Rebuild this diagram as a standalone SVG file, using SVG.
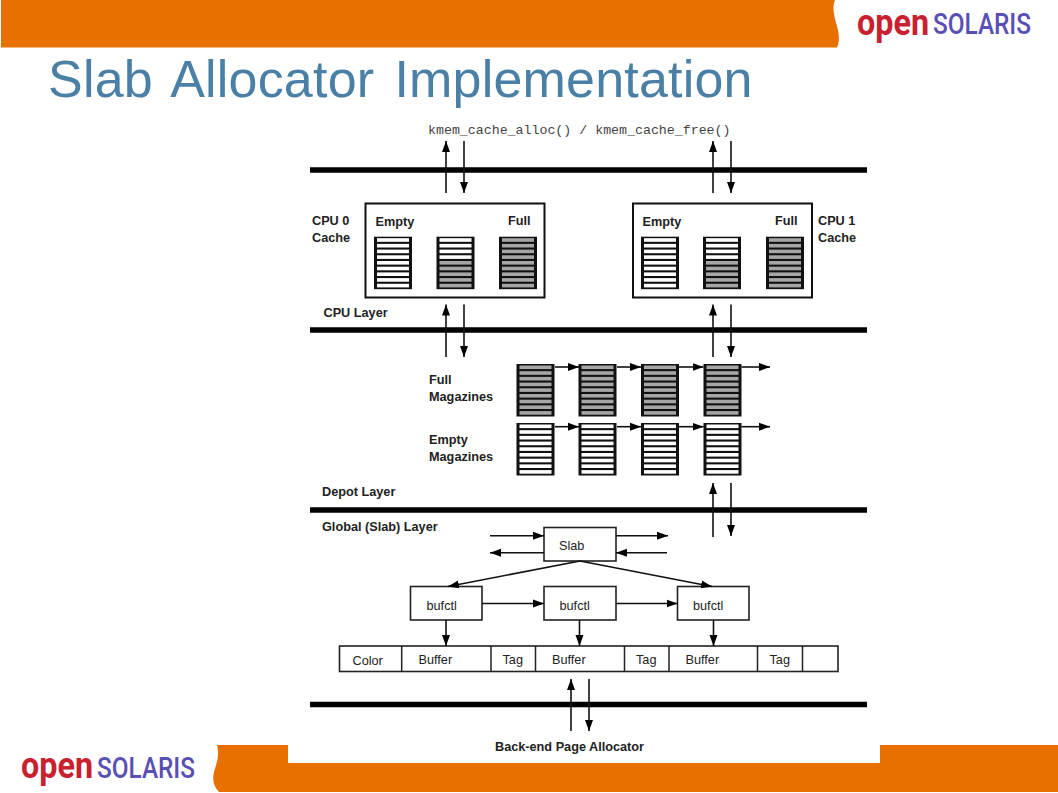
<svg xmlns="http://www.w3.org/2000/svg" width="1058" height="793" viewBox="0 0 1058 793">
<style>
.b{fill:#e87000}
.title{font:52px "Liberation Sans",Arial,sans-serif;word-spacing:5.5px;letter-spacing:.2px;fill:#4a80a6}
.lb{font:bold 12.7px "Liberation Sans",Arial,sans-serif;fill:#222}
.lr{font:12.7px "Liberation Sans",Arial,sans-serif;fill:#222}
.mono{font:13.28px "Liberation Mono","Courier New",monospace;fill:#444}
.open{font:700 37px Roboto,"Noto Sans",sans-serif;fill:#c8202f}
.sol{font:500 30px Roboto,"Noto Sans",sans-serif;text-transform:uppercase;fill:#5a4fb5}
.bar{stroke:#000;stroke-width:5.5;fill:none}
.box{fill:#fff;stroke:#111;stroke-width:2}
.thin{fill:#fff;stroke:#222;stroke-width:1.6}
.c{stroke:#111;stroke-width:1.6;fill:none;marker-end:url(#ah)}
</style>
<defs>
<marker id="ah" markerUnits="userSpaceOnUse" markerWidth="11" markerHeight="9" refX="11" refY="4.5" orient="auto"><path d="M0 0.5L11 4.500L0 8.500Z" fill="#000"/></marker>
<g id="magE"><rect width="38" height="52.5" fill="#111"/><g fill="#fff"><rect x="3" y="1.5" width="32" height="3.6"/><rect x="3" y="7.2" width="32" height="3.6"/><rect x="3" y="12.9" width="32" height="3.6"/><rect x="3" y="18.6" width="32" height="3.6"/><rect x="3" y="24.3" width="32" height="3.6"/><rect x="3" y="30" width="32" height="3.6"/><rect x="3" y="35.7" width="32" height="3.6"/><rect x="3" y="41.4" width="32" height="3.6"/><rect x="3" y="47.1" width="32" height="3.6"/></g></g>
<g id="magF"><rect width="38" height="52.5" fill="#111"/><g fill="#a6a6a6"><rect x="3" y="1.5" width="32" height="3.6"/><rect x="3" y="7.2" width="32" height="3.6"/><rect x="3" y="12.9" width="32" height="3.6"/><rect x="3" y="18.6" width="32" height="3.6"/><rect x="3" y="24.3" width="32" height="3.6"/><rect x="3" y="30" width="32" height="3.6"/><rect x="3" y="35.7" width="32" height="3.6"/><rect x="3" y="41.4" width="32" height="3.6"/><rect x="3" y="47.1" width="32" height="3.6"/></g></g>
<g id="magH"><rect width="38" height="52.5" fill="#111"/><g fill="#fff"><rect x="3" y="1.5" width="32" height="3.6"/><rect x="3" y="7.2" width="32" height="3.6"/><rect x="3" y="12.9" width="32" height="3.6"/><rect x="3" y="18.6" width="32" height="3.6"/></g><g fill="#a6a6a6"><rect x="3" y="24.3" width="32" height="3.6"/><rect x="3" y="30" width="32" height="3.6"/><rect x="3" y="35.7" width="32" height="3.6"/><rect x="3" y="41.4" width="32" height="3.6"/><rect x="3" y="47.1" width="32" height="3.6"/></g></g>
</defs>
<rect width="1058" height="793" fill="#fff"/>
<g id="slide-frame">
<path class="b" d="M1 0H835C832 8 834 16 837 26C839 34 840 41 837 47.500H1Z"/>
<path class="b" d="M217 745H288V763H880V745H1058V792H219C214 787 212 780 214 772C216 764 220 757 217 745Z"/>
<rect x="288" y="745" width="592" height="18" fill="#fff"/>
<text class="title" x="48" y="97">Slab Allocator Implementation</text>
</g>
<g id="logo-top"><text class="open" x="857" y="34.500" textLength="72" lengthAdjust="spacingAndGlyphs">open</text><text class="sol" x="933" y="33.500" textLength="98" lengthAdjust="spacingAndGlyphs">solaris</text></g>
<g id="logo-bottom"><text class="open" x="21" y="778" textLength="72" lengthAdjust="spacingAndGlyphs">open</text><text class="sol" x="97" y="777.500" textLength="98" lengthAdjust="spacingAndGlyphs">solaris</text></g>
<g id="layer-bars">
<path class="bar" d="M310 170H867M310 330H867M310 510H867M310 704.500H867"/>
</g>
<g id="cpu0-cache">
<rect class="box" x="365.500" y="203.500" width="179" height="94"/>
<use href="#magE" x="374" y="236.700"/><use href="#magH" x="436.500" y="236.700"/><use href="#magF" x="499" y="236.700"/>
<text class="lb" x="375.500" y="226">Empty</text><text class="lb" x="508" y="225">Full</text>
<text class="lb" x="312" y="225">CPU 0</text><text class="lb" x="312" y="241.500">Cache</text>
</g>
<g id="cpu1-cache">
<rect class="box" x="633" y="203.500" width="179" height="94"/>
<use href="#magE" x="641" y="236.700"/><use href="#magH" x="703" y="236.700"/><use href="#magF" x="766" y="236.700"/>
<text class="lb" x="642.500" y="226">Empty</text><text class="lb" x="775" y="225">Full</text>
<text class="lb" x="818" y="225">CPU 1</text><text class="lb" x="818" y="241.500">Cache</text>
</g>
<g id="label-cpu-layer"><text class="lb" x="323.500" y="317">CPU Layer</text></g>
<g id="full-magazines">
<text class="lb" x="429" y="384">Full</text><text class="lb" x="429" y="401">Magazines</text>
<use href="#magF" x="516.500" y="364"/><use href="#magF" x="578.500" y="364"/><use href="#magF" x="641" y="364"/><use href="#magF" x="703.500" y="364"/>
</g>
<g id="empty-magazines">
<text class="lb" x="429" y="444">Empty</text><text class="lb" x="429" y="461">Magazines</text>
<use href="#magE" x="516.500" y="423"/><use href="#magE" x="578.500" y="423"/><use href="#magE" x="641" y="423"/><use href="#magE" x="703.500" y="423"/>
</g>
<g id="label-depot-layer"><text class="lb" x="322" y="496">Depot Layer</text></g>
<g id="label-global-layer"><text class="lb" x="322" y="531">Global (Slab) Layer</text></g>
<g id="slab"><rect class="thin" x="544" y="527.500" width="72" height="33.500"/><text class="lr" x="559" y="550">Slab</text></g>
<g id="bufctl-1"><rect class="thin" x="410.500" y="586.500" width="71.500" height="33.500"/><text class="lr" x="426.500" y="610">bufctl</text></g>
<g id="bufctl-2"><rect class="thin" x="544" y="586.500" width="72" height="33.500"/><text class="lr" x="559.500" y="610">bufctl</text></g>
<g id="bufctl-3"><rect class="thin" x="677.500" y="586.500" width="71.500" height="33.500"/><text class="lr" x="693" y="610">bufctl</text></g>
<g id="buffers">
<rect class="thin" x="339.500" y="646" width="498.500" height="25.500"/>
<path stroke="#222" stroke-width="1.500" d="M401.700 646V671.500M491 646V671.500M535.500 646V671.500M624.500 646V671.500M669 646V671.500M757.500 646V671.500M802.500 646V671.500"/>
<text class="lr" x="352.500" y="665">Color</text><text class="lr" x="418.500" y="664">Buffer</text><text class="lr" x="502.500" y="664">Tag</text><text class="lr" x="552" y="664">Buffer</text><text class="lr" x="636" y="664">Tag</text><text class="lr" x="685.500" y="664">Buffer</text><text class="lr" x="769.500" y="664">Tag</text>
</g>
<g id="label-top"><text class="mono" x="428" y="134">kmem_cache_alloc() / kmem_cache_free()</text></g>
<g id="label-backend"><text class="lb" x="495" y="751">Back-end Page Allocator</text></g>
<g id="connectors">
<path class="c" d="M446 193V141"/><path class="c" d="M464 141V193"/>
<path class="c" d="M713 193V141"/><path class="c" d="M731 141V193"/>
<path class="c" d="M446 357V304.500"/><path class="c" d="M464 304.500V357"/>
<path class="c" d="M713 357V304.500"/><path class="c" d="M731 304.500V357"/>
<path class="c" d="M713 537V483"/><path class="c" d="M731 483V536"/>
<path class="c" d="M571 731V679"/><path class="c" d="M589 679V731"/>
<path class="c" d="M555 367H579"/><path class="c" d="M617 367H641"/><path class="c" d="M679 367H703.500"/><path class="c" d="M741.500 367H770"/>
<path class="c" d="M555 426.700H579"/><path class="c" d="M617 426.700H641"/><path class="c" d="M679 426.700H703.500"/><path class="c" d="M741.500 426.700H770"/>
<path class="c" d="M490 535.700H544"/><path class="c" d="M544 552.700H490"/>
<path class="c" d="M616 535.700H668"/><path class="c" d="M667 552.700H616"/>
<path class="c" d="M580 561L448 586.500"/><path class="c" d="M580 561L712 586.500"/>
<path class="c" d="M482 603.500H544"/><path class="c" d="M616 603.500H677.500"/>
<path class="c" d="M446 620V646"/><path class="c" d="M579.500 620V646"/><path class="c" d="M713.500 620V646"/>
</g>
</svg>
